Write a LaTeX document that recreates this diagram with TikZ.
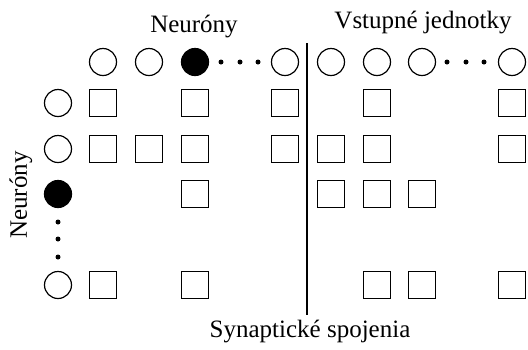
\documentclass[tikz,border=0pt]{standalone}
\usepackage{fontspec}
\setmainfont{Liberation Serif}
\begin{document}
\begin{tikzpicture}[x=1pt,y=-1pt,
  neuron/.style={circle,draw,line width=1.2pt,minimum size=27pt,inner sep=0pt},
  active/.style={neuron,fill=black},
  synapse/.style={rectangle,draw,line width=1.2pt,minimum size=27pt,inner sep=0pt},
  dot/.style={circle,fill=black,minimum size=5pt,inner sep=0pt},
  lbl/.style={font=\fontsize{25}{30}\selectfont,inner sep=0pt}]
\useasboundingbox (0,0) rectangle (528,349);

% labels
\node[lbl,anchor=base] (tn) at (194,32) {Neuróny};
\node[lbl,anchor=base] (tv) at (423,28) {Vstupné jednotky};
\node[lbl,anchor=base] (ts) at (310,337) {Synaptické spojenia};
\node[lbl,anchor=base,rotate=90] (ln) at (27,195) {Neuróny};

% top row: neurons and input units
\node[neuron] (c1) at (103,62) {};
\node[neuron] (c2) at (149,62) {};
\node[active] (c3) at (195,62) {};
\node[dot] (d1) at (221,62) {};
\node[dot] (d2) at (240,62) {};
\node[dot] (d3) at (258,62) {};
\node[neuron] (c4) at (285,62) {};
\node[neuron] (u1) at (331,62) {};
\node[neuron] (u2) at (377,62) {};
\node[neuron] (u3) at (422,62) {};
\node[dot] (d4) at (447,62) {};
\node[dot] (d5) at (466,62) {};
\node[dot] (d6) at (484,62) {};
\node[neuron] (u4) at (512,62) {};

% left column: neurons
\node[neuron] (r1) at (58,103) {};
\node[neuron] (r2) at (58,149) {};
\node[active] (r3) at (58,194) {};
\node[dot] (e1) at (58,222) {};
\node[dot] (e2) at (58,239) {};
\node[dot] (e3) at (58,257) {};
\node[neuron] (r4) at (58,285) {};

% synapses, row 1
\node[synapse] (s11) at (103,103) {};
\node[synapse] (s12) at (195,103) {};
\node[synapse] (s13) at (285,103) {};
\node[synapse] (s14) at (377,103) {};
\node[synapse] (s15) at (512,103) {};
% row 2
\node[synapse] (s21) at (103,149) {};
\node[synapse] (s22) at (149,149) {};
\node[synapse] (s23) at (195,149) {};
\node[synapse] (s24) at (285,149) {};
\node[synapse] (s25) at (331,149) {};
\node[synapse] (s26) at (377,149) {};
\node[synapse] (s27) at (512,149) {};
% row 3
\node[synapse] (s31) at (195,194) {};
\node[synapse] (s32) at (331,194) {};
\node[synapse] (s33) at (377,194) {};
\node[synapse] (s34) at (422,194) {};
% row 4
\node[synapse] (s41) at (103,285) {};
\node[synapse] (s42) at (195,285) {};
\node[synapse] (s43) at (377,285) {};
\node[synapse] (s44) at (422,285) {};
\node[synapse] (s45) at (512,285) {};

% separator between neurons and input units
\coordinate (vt) at (307,43);
\coordinate (vb) at (307,315);
\draw[line width=1.2pt] (vt) -- (vb);
\end{tikzpicture}
\end{document}
